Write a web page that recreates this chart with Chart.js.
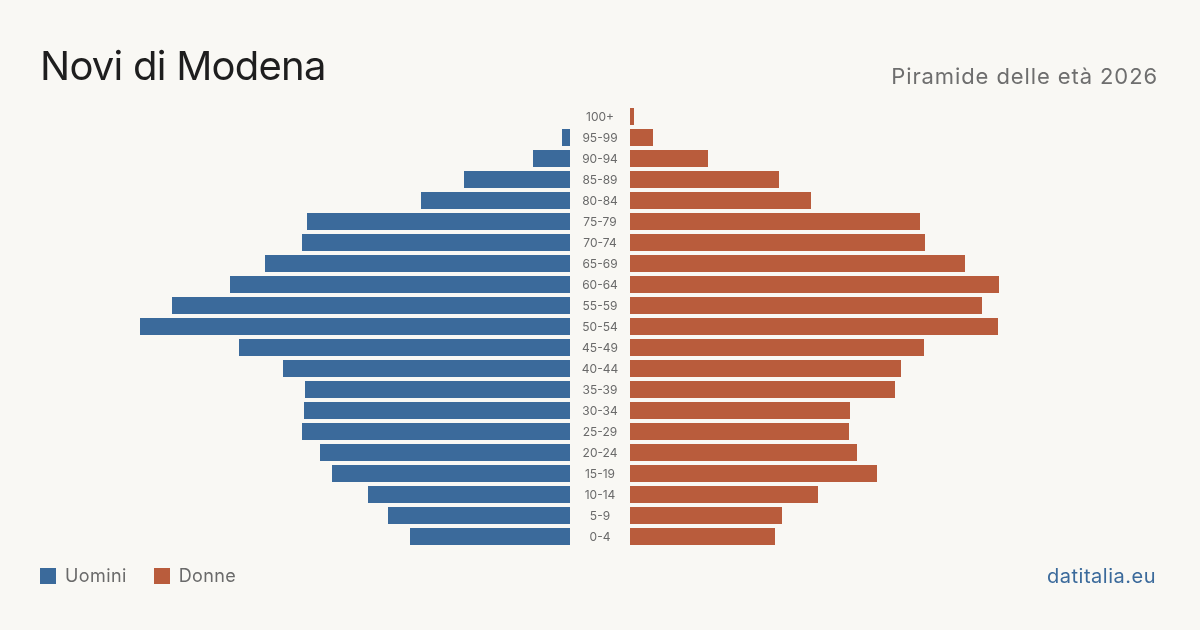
<!DOCTYPE html>
<html><head><meta charset="utf-8">
<script src="https://cdn.jsdelivr.net/npm/chart.js@4"></script>
<style>
html,body{margin:0;padding:0;background:#f9f8f4;}
#wrap{position:relative;width:1200px;height:630px;overflow:hidden;font-family:Inter,"Noto Sans",sans-serif;}
#c{position:absolute;left:0;top:0;}
.t{position:absolute;white-space:nowrap;}
#title{left:40px;top:40px;font-size:40px;color:#1e1e1e;line-height:52px;letter-spacing:-0.75px;}
#sub{right:42px;top:62px;font-size:22px;color:#6e6e6e;line-height:28px;letter-spacing:0.9px;}
#leg{left:40px;top:564px;font-size:18px;color:#6a6a6a;line-height:24px;display:flex;align-items:center;letter-spacing:0.4px;}
#leg span.sw{display:inline-block;width:16px;height:16px;margin-right:9px;}
#brand{right:44px;top:563px;font-size:20px;color:#3b6a9b;line-height:26px;letter-spacing:0.5px;}
</style></head>
<body><div id="wrap">
<canvas id="c" width="1200" height="630"></canvas>
<div class="t" id="title">Novi di Modena</div>
<div class="t" id="sub">Piramide delle età 2026</div>
<div class="t" id="leg"><span class="sw" style="background:#3b6a9b"></span>Uomini<span class="sw" style="background:#b95c3c;margin-left:27px"></span>Donne</div>
<div class="t" id="brand">datitalia.eu</div>
</div>
<script>
const ageGroups = ["100+","95-99","90-94","85-89","80-84","75-79","70-74","65-69","60-64","55-59","50-54","45-49","40-44","35-39","30-34","25-29","20-24","15-19","10-14","5-9","0-4"];
const men   = [0, 8, 37, 106, 149, 263, 268, 305, 340, 398, 430, 331, 287, 265, 266, 268, 250, 238, 202, 182, 160];
const women = [4, 23, 78, 149, 181, 290, 295, 335, 369, 352, 368, 294, 271, 265, 220, 219, 227, 247, 188, 152, 145];
const seriesNames = ["Uomini","Donne"];
const colors = {men:"#3b6a9b", women:"#b95c3c"};
const halfGap = 30; // label gutter, in axis units

const centerLabels = {
  id:'centerLabels',
  afterDatasetsDraw(chart){
    const ctx = chart.ctx, y = chart.scales.y, x = chart.scales.x;
    const cx = x.getPixelForValue(0);
    ctx.save();
    ctx.font = '12px Inter, "Noto Sans", sans-serif';
    ctx.fillStyle = '#6a6a6a';
    ctx.textAlign = 'center';
    ctx.textBaseline = 'middle';
    ageGroups.forEach((g,i)=>{ ctx.fillText(g, cx, y.getPixelForValue(i)+0.5); });
    ctx.restore();
  }
};

new Chart(document.getElementById('c'), {
  type:'bar',
  data:{
    labels: ageGroups,
    datasets:[
      {label:seriesNames[0], data: men.map(v=>[-halfGap - v, -halfGap]), backgroundColor:colors.men, borderWidth:0, categoryPercentage:1, barPercentage:0.81, grouped:false},
      {label:seriesNames[1], data: women.map(v=>[halfGap, halfGap + v]), backgroundColor:colors.women, borderWidth:0, categoryPercentage:1, barPercentage:0.81, grouped:false}
    ]
  },
  options:{
    indexAxis:'y',
    responsive:false,
    animation:false,
    layout:{padding:{top:106, bottom:83, left:0, right:0}},
    plugins:{legend:{display:false}, tooltip:{enabled:false}, title:{display:false}},
    scales:{
      x:{display:false, min:-600, max:600},
      y:{display:false}
    }
  },
  plugins:[centerLabels]
});
</script>
</body></html>
